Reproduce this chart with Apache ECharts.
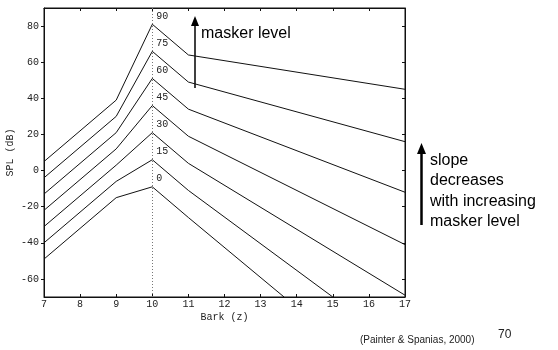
<!DOCTYPE html>
<html>
<head>
<meta charset="utf-8">
<script src="https://cdn.jsdelivr.net/npm/echarts@6/dist/echarts.min.js"></script>
<style>
  html, body { margin: 0; padding: 0; background: #fff; }
  #chart { width: 558px; height: 350px; }
</style>
</head>
<body>
<div id="chart"></div>
<script>
// masker levels (dB) and the curve values read at each Bark breakpoint
const levels = [0, 15, 30, 45, 60, 75, 90];
const spl7 = [-49, -40, -31, -22, -13, -4, 5];
const spl9 = [-15, -6, 3, 12, 21, 30, 39];
const spl10 = [-9, 6, 21, 36, 51, 66, 81];
const spl11 = [-26, -11, 4, 19, 34, 49, 64];
// where each curve stops: at bark 17 or where it meets the bottom of the plot
const endBark = [13.65, 15, 17, 17, 17, 17, 17];
const endSpl = [-70, -70, -69, -41, -12, 16, 45];

const yTicks = [-60, -40, -20, 0, 20, 40, 60, 80];
const monoFont = 'Liberation Mono';

let chart = echarts.init(document.getElementById('chart'), null, { renderer: 'canvas' });

// one line per masker level, label the peak at 10 Bark
let series = levels.map(function (lvl, i) {
    return {
        type: 'line',
        data: [
            [7, spl7[i]],
            [9, spl9[i]],
            {
                value: [10, spl10[i]],
                label: {
                    show: true,
                    formatter: String(lvl),
                    position: 'right',
                    distance: 4,
                    offset: [0, -8],
                    fontFamily: monoFont,
                    fontSize: 10,
                    color: '#222'
                }
            },
            [11, spl11[i]],
            [endBark[i], endSpl[i]]
        ],
        symbol: 'circle',
        symbolSize: 0,
        showSymbol: true,
        lineStyle: { color: '#111', width: 1 },
        itemStyle: { color: '#111' },
        silent: true,
        animation: false
    };
});

// dotted line at the masker frequency
series[0].markLine = {
    silent: true,
    symbol: 'none',
    label: { show: false },
    lineStyle: { color: '#777', type: [1, 2], width: 1 },
    data: [{ xAxis: 10 }]
};

let axisText = { fontFamily: monoFont, fontSize: 10, color: '#222' };
function axisLine() {
    return { show: true, onZero: false, lineStyle: { color: '#111', width: 1 } };
}

let option = {
    backgroundColor: '#fff',
    animation: false,
    grid: {
        left: 44, right: 153, top: 8, bottom: 53,
        outerBoundsMode: 'none', containLabel: false,
        show: true, borderColor: '#111', borderWidth: 1
    },
    xAxis: [{
        type: 'value', min: 7, max: 17, interval: 1, position: 'bottom',
        name: 'Bark (z)', nameLocation: 'middle', nameGap: 15, nameMoveOverlap: false,
        nameTextStyle: axisText,
        axisLine: axisLine(),
        axisTick: { inside: true, length: 3, lineStyle: { color: '#111' } },
        axisLabel: Object.assign({ margin: 2 }, axisText),
        splitLine: { show: false }
    }, {
        type: 'value', min: 7, max: 17, interval: 1, position: 'top',
        axisLine: axisLine(),
        axisTick: { inside: true, length: 3, lineStyle: { color: '#111' } },
        axisLabel: { show: false },
        splitLine: { show: false }
    }],
    yAxis: [{
        type: 'value', min: -70, max: 90, position: 'left',
        name: 'SPL (dB)', nameLocation: 'middle', nameGap: 29, nameMoveOverlap: false,
        nameTextStyle: axisText,
        axisLine: axisLine(),
        axisTick: { customValues: yTicks, length: 3, lineStyle: { color: '#111' } },
        axisLabel: Object.assign({ customValues: yTicks, margin: 5 }, axisText),
        splitLine: { show: false }
    }, {
        type: 'value', min: -70, max: 90, position: 'right',
        axisLine: axisLine(),
        axisTick: { customValues: yTicks, inside: true, length: 3, lineStyle: { color: '#111' } },
        axisLabel: { show: false },
        splitLine: { show: false }
    }],
    series: series,
    graphic: [
        // masker level arrow
        { type: 'line', shape: { x1: 195, y1: 88, x2: 195, y2: 25 }, style: { stroke: '#000', lineWidth: 1.5 } },
        { type: 'polygon', shape: { points: [[195, 16], [191, 26], [199, 26]] }, style: { fill: '#000' } },
        { type: 'text', left: 201, top: 26, style: { text: 'masker level', font: '16px "Liberation Sans"', fill: '#000' } },
        // slope arrow
        { type: 'line', shape: { x1: 421.5, y1: 225, x2: 421.5, y2: 150 }, style: { stroke: '#000', lineWidth: 2.5 } },
        { type: 'polygon', shape: { points: [[421.5, 143], [417, 154], [426, 154]] }, style: { fill: '#000' } },
        {
            type: 'text', left: 430, top: 150,
            style: {
                text: 'slope\ndecreases\nwith increasing\nmasker level',
                font: '16px "Liberation Sans"', lineHeight: 20.5, fill: '#000'
            }
        },
        { type: 'text', left: 360, top: 335, style: { text: '(Painter & Spanias, 2000)', font: '10px "Liberation Sans"', fill: '#222' } },
        { type: 'text', left: 498, top: 329, style: { text: '70', font: '12px "Liberation Sans"', fill: '#222' } }
    ]
};

chart.setOption(option);
</script>
</body>
</html>
